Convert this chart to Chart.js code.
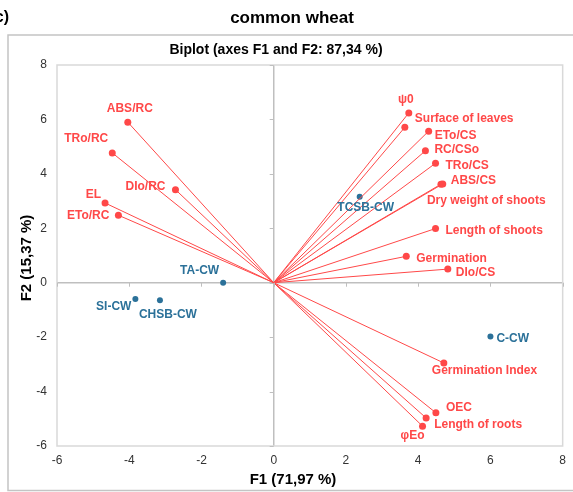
<!DOCTYPE html>
<html>
<head>
<meta charset="utf-8">
<script src="https://cdn.jsdelivr.net/npm/chart.js@4"></script>
<style>
  html, body { margin: 0; padding: 0; background: #fff; }
  canvas { display: block; }
</style>
</head>
<body>
<canvas id="biplot" width="573" height="492"></canvas>
<script>
// variables (loadings), F1 / F2
const varNames = ['ABS/RC', 'TRo/RC', 'DIo/RC', 'EL', 'ETo/RC', 'ψ0', 'Surface of leaves', 'ETo/CS', 'RC/CSo',
  'TRo/CS', 'ABS/CS', 'Dry weight of shoots', 'Length of shoots', 'Germination', 'DIo/CS',
  'Germination Index', 'OEC', 'Length of roots', 'φEo'];
const varF1 = [-4.04, -4.47, -2.72, -4.67, -4.30, 3.74, 3.63, 4.29, 4.20, 4.48, 4.68, 4.63, 4.48, 3.67, 4.82, 4.71, 4.49, 4.22, 4.12];
const varF2 = [5.90, 4.77, 3.42, 2.93, 2.48, 6.24, 5.71, 5.57, 4.85, 4.39, 3.63, 3.62, 1.99, 0.97, 0.50, -2.95, -4.78, -4.97, -5.27];

// observations
const obsNames = ['TA-CW', 'SI-CW', 'CHSB-CW', 'TCSB-CW', 'C-CW'];
const obsF1 = [-1.40, -3.83, -3.15, 2.38, 6.00];
const obsF2 = [0.00, -0.60, -0.64, 3.16, -1.98];

const xTicks = [-6, -4, -2, 0, 2, 4, 6, 8];
const yTicks = [-6, -4, -2, 0, 2, 4, 6, 8];

// label placement relative to the point (px): [dx, dy, align]
const varLabelPos = [
  [2, -13, 'center'], [-4, -14, 'right'], [-10, -3, 'right'], [-4, -8, 'right'], [-9, 0, 'right'],
  [-3, -13, 'center'], [10, -9, 'left'], [6, 5, 'left'], [9, -1, 'left'], [10, 2, 'left'],
  [8, -3, 'left'], [-14, 16, 'left'], [10, 2, 'left'], [10, 2, 'left'], [8, 4, 'left'],
  [-12, 8, 'left'], [10, -5, 'left'], [8, 7, 'left'], [-10, 10, 'center']
];
const obsLabelPos = [
  [-4, -12, 'right'], [-4, 8, 'right'], [8, 15, 'center'], [6, 11, 'center'], [6, 2, 'left']
];

const RED = '#ff4848';
const BLUE = '#2b7199';
const FONT = '"Liberation Sans", Arial, sans-serif';

const datasets = varNames.map((name, i) => ({
  label: name,
  data: [{ x: 0, y: 0 }, { x: varF1[i], y: varF2[i] }],
  showLine: true,
  borderColor: RED,
  borderWidth: 1,
  backgroundColor: RED,
  pointRadius: [0, 3.5],
  pointBorderWidth: 0
}));
datasets.push({
  label: 'Observations',
  data: obsNames.map((n, i) => ({ x: obsF1[i], y: obsF2[i] })),
  showLine: false,
  backgroundColor: BLUE,
  borderColor: BLUE,
  pointRadius: 3,
  pointBorderWidth: 0
});

const decor = {
  id: 'decor',
  afterDraw(chart) {
    const { ctx, chartArea: a, scales: { x, y } } = chart;
    ctx.save();
    // outer frame
    ctx.strokeStyle = '#c4c4c4';
    ctx.lineWidth = 1.5;
    ctx.strokeRect(8, 35, 575, 455.5);
    // plot border
    ctx.strokeStyle = '#d9d9d9';
    ctx.lineWidth = 1.5;
    ctx.strokeRect(a.left, a.top, a.right - a.left, a.bottom - a.top);
    // tick marks on zero axes
    ctx.strokeStyle = '#bfbfbf';
    ctx.lineWidth = 1;
    const x0 = x.getPixelForValue(0), y0 = y.getPixelForValue(0);
    yTicks.forEach(v => {
      const py = Math.round(y.getPixelForValue(v)) + 0.5;
      ctx.beginPath(); ctx.moveTo(x0 - 4, py); ctx.lineTo(x0, py); ctx.stroke();
    });
    xTicks.forEach(v => {
      const px = Math.round(x.getPixelForValue(v)) + 0.5;
      ctx.beginPath(); ctx.moveTo(px, y0); ctx.lineTo(px, y0 + 4); ctx.stroke();
    });

    // point labels
    ctx.font = 'bold 12px ' + FONT;
    ctx.textBaseline = 'middle';
    const put = (txt, vx, vy, pos, color) => {
      ctx.fillStyle = color;
      ctx.textAlign = pos[2];
      ctx.fillText(txt, x.getPixelForValue(vx) + pos[0], y.getPixelForValue(vy) + pos[1]);
    };
    varNames.forEach((n, i) => put(n, varF1[i], varF2[i], varLabelPos[i], RED));
    obsNames.forEach((n, i) => put(n, obsF1[i], obsF2[i], obsLabelPos[i], BLUE));

    // titles
    ctx.fillStyle = '#000';
    ctx.textAlign = 'right';
    ctx.font = 'bold 16px ' + FONT;
    ctx.fillText('c)', 9, 18);
    ctx.textAlign = 'center';
    ctx.font = 'bold 17px ' + FONT;
    ctx.fillText('common wheat', 292, 18);
    ctx.font = 'bold 14px ' + FONT;
    ctx.fillText('Biplot (axes F1 and F2: 87,34 %)', 276, 50);
    ctx.font = 'bold 15px ' + FONT;
    ctx.fillText('F1 (71,97 %)', 293, 480);
    ctx.translate(27, 258);
    ctx.rotate(-Math.PI / 2);
    ctx.fillText('F2 (15,37 %)', 0, 0);
    ctx.restore();
  }
};

const zeroGrid = c => (c.tick && c.tick.value === 0 ? '#bfbfbf' : 'rgba(0,0,0,0)');

new Chart(document.getElementById('biplot'), {
  type: 'scatter',
  data: { datasets },
  plugins: [decor],
  options: {
    responsive: false,
    animation: false,
    layout: { padding: { left: 8, right: 9, top: 65, bottom: 0 } },
    plugins: { legend: { display: false }, tooltip: { enabled: false }, title: { display: false } },
    scales: {
      x: {
        type: 'linear', min: xTicks[0], max: xTicks[xTicks.length - 1],
        afterFit: s => { s.height = 46; },
        afterBuildTicks: s => { s.ticks = xTicks.map(v => ({ value: v })); },
        grid: { color: zeroGrid, lineWidth: 1.5, drawTicks: false },
        border: { display: false },
        ticks: { color: '#333', padding: 7, font: { size: 12, family: FONT } }
      },
      y: {
        type: 'linear', min: yTicks[0], max: yTicks[yTicks.length - 1],
        afterFit: s => { s.width = 49; },
        afterBuildTicks: s => { s.ticks = yTicks.map(v => ({ value: v })); },
        grid: { color: zeroGrid, lineWidth: 1.5, drawTicks: false },
        border: { display: false },
        ticks: { color: '#333', padding: 10, font: { size: 12, family: FONT } }
      }
    }
  }
});
</script>
</body>
</html>
